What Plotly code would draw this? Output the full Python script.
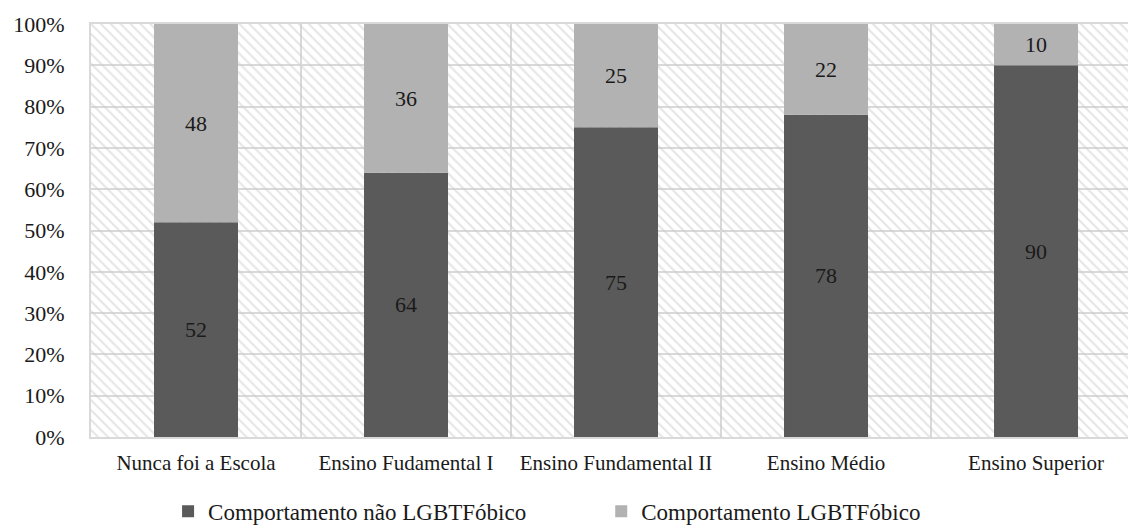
import plotly.graph_objects as go

categories = ["Nunca foi a Escola", "Ensino Fudamental I", "Ensino Fundamental II", "Ensino Médio", "Ensino Superior"]
nao_lgbtfobico = [52, 64, 75, 78, 90]
lgbtfobico = [48, 36, 25, 22, 10]
full_scale = [100, 100, 100, 100, 100]
series_names = ["Comportamento não LGBTFóbico", "Comportamento LGBTFóbico"]

FONT = "Liberation Serif, Times New Roman, serif"
fig = go.Figure()

# hatched background bands
fig.add_trace(go.Bar(
    x=categories, y=full_scale, width=1, showlegend=False, hoverinfo="skip",
    marker=dict(color="rgba(0,0,0,0)", line=dict(width=0),
                pattern=dict(shape="\\", fgcolor="#cccccc", bgcolor="rgba(0,0,0,0)", size=7, solidity=0.3)),
))

fig.add_trace(go.Bar(
    x=categories, y=nao_lgbtfobico, width=0.4, name=series_names[0], legend="legend",
    marker=dict(color="#5a5a5a", line=dict(width=0)),
    text=[str(v) for v in nao_lgbtfobico], textposition="inside", insidetextanchor="middle",
    textfont=dict(family=FONT, size=22, color="#1a1a1a"), textangle=0,
))
fig.add_trace(go.Bar(
    x=categories, y=lgbtfobico, base=nao_lgbtfobico, width=0.4, name=series_names[1], legend="legend2",
    marker=dict(color="#b2b2b2", line=dict(width=0)),
    text=[str(v) for v in lgbtfobico], textposition="inside", insidetextanchor="middle",
    textfont=dict(family=FONT, size=22, color="#1a1a1a"), textangle=0,
))

legend_common = dict(orientation="h", xref="container", xanchor="left",
                     yref="container", y=0.028, yanchor="middle",
                     font=dict(family=FONT, size=23, color="#1a1a1a"), itemwidth=30,
                     bgcolor="rgba(0,0,0,0)")

fig.update_layout(
    width=1128, height=526,
    margin=dict(l=91, r=0, t=24, b=89, autoexpand=False),
    barmode="overlay",
    paper_bgcolor="white", plot_bgcolor="white",
    font=dict(family=FONT, color="#1a1a1a"),
    legend=dict(x=0.149, **legend_common),
    legend2=dict(x=0.533, **legend_common),
    xaxis=dict(type="category", range=[-0.5, 4.438], tickson="boundaries",
               showgrid=True, gridcolor="#d9d9d9", gridwidth=2,
               showline=True, linecolor="#d9d9d9", linewidth=2, mirror=True,
               ticks="", ticklabelstandoff=6, tickangle=0,
               tickfont=dict(family=FONT, size=21, color="#1a1a1a")),
    yaxis=dict(range=[0, 100], dtick=10, ticksuffix="%",
               showgrid=True, gridcolor="#d9d9d9", gridwidth=2,
               showline=True, linecolor="#d9d9d9", linewidth=2, mirror=True,
               ticks="", ticklabelstandoff=20, zeroline=False,
               tickfont=dict(family=FONT, size=22, color="#1a1a1a")),
)

fig.write_html("out.html")
